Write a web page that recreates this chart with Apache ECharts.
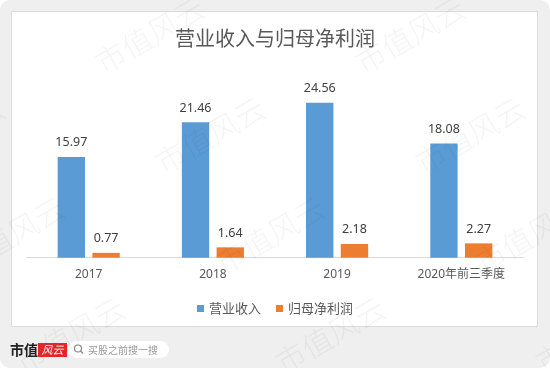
<!DOCTYPE html>
<html>
<head>
<meta charset="utf-8">
<script src="https://cdn.jsdelivr.net/npm/echarts@6/dist/echarts.min.js"></script>
<style>
html,body{margin:0;padding:0;background:#fff;}
#main{width:550px;height:368px;}
</style>
</head>
<body>
<div id="main"></div>
<script>
var categories = ['2017', '2018', '2019', '2020年前三季度'];
var revenue = [15.97, 21.46, 24.56, 18.08];   // 营业收入
var netProfit = [0.77, 1.64, 2.18, 2.27];      // 归母净利润
var seriesNames = ['营业收入', '归母净利润'];

var chart = echarts.init(document.getElementById('main'));
var font = '"Noto Sans", "Noto Sans CJK SC", sans-serif';

// 水印 市值风云
var marks = [];
[-110, 150, 410].forEach(function (x0) {
    for (var k = -1; k < 4; k++) {
        marks.push({
            type: 'text',
            x: x0 + 60 * k,
            y: 35 + 100 * k,
            rotation: Math.PI / 6,
            z: 100,
            silent: true,
            style: {
                text: '市值风云',
                fill: 'rgba(0,0,0,0.045)',
                font: '300 30px "Noto Sans CJK SC"',
                align: 'center',
                verticalAlign: 'middle'
            }
        });
    }
});

var option = {
    backgroundColor: '#fff',
    textStyle: { fontFamily: font },
    title: {
        text: '营业收入与归母净利润',
        left: 'center',
        top: 23,
        textStyle: { color: '#595959', fontSize: 20, fontWeight: 'normal', fontFamily: '"Noto Sans CJK SC"' }
    },
    grid: { left: 26.6, right: 26.6, top: 68.4, height: 189.3 },
    legend: {
        data: seriesNames,
        top: 297,
        left: 'center',
        icon: 'rect',
        itemWidth: 7,
        itemHeight: 7,
        itemGap: 15,
        textStyle: { color: '#595959', fontSize: 13, fontFamily: '"Noto Sans CJK SC"' }
    },
    xAxis: {
        type: 'category',
        data: categories,
        axisTick: { show: false },
        axisLine: { lineStyle: { color: '#d9d9d9', width: 1 } },
        axisLabel: { color: '#595959', fontSize: 12, margin: 11 }
    },
    yAxis: {
        type: 'value',
        min: 0,
        max: 30,
        show: false,
        splitLine: { show: false }
    },
    series: [
        {
            name: seriesNames[0],
            type: 'bar',
            data: revenue,
            barGap: '27%',
            barCategoryGap: '50%',
            itemStyle: { color: '#5b9bd5' },
            label: { show: true, position: 'top', distance: 8, color: '#404040', fontSize: 12.5 }
        },
        {
            name: seriesNames[1],
            type: 'bar',
            data: netProfit,
            itemStyle: { color: '#ed7d31' },
            label: { show: true, position: 'top', distance: 8, color: '#404040', fontSize: 12.5 }
        }
    ],
    graphic: [
        {
            type: 'rect', z: -10, silent: true,
            shape: { x: 0, y: 0, width: 550, height: 368, r: 10 },
            style: { fill: '#efefef' }
        },
        {
            type: 'rect', z: -9, silent: true,
            shape: { x: 11.5, y: 11.5, width: 526, height: 315 },
            style: { fill: '#fff', stroke: '#dcdcdc', lineWidth: 1 }
        },
        // 底部 logo
        {
            type: 'text', z: 10, x: 10, y: 350,
            style: { text: '市值', font: 'bold 14px "Noto Sans CJK SC"', fill: '#222', verticalAlign: 'middle' }
        },
        {
            type: 'rect', z: 10,
            shape: { x: 38, y: 343, width: 29, height: 14 },
            style: { fill: '#e8262a' }
        },
        {
            type: 'text', z: 11, x: 52.5, y: 350,
            style: { text: '风云', font: 'italic 11px "Noto Sans CJK SC"', fill: '#fff', align: 'center', verticalAlign: 'middle' }
        },
        {
            type: 'rect', z: 10,
            shape: { x: 68, y: 341, width: 101, height: 17, r: 8.5 },
            style: { fill: '#fff' }
        },
        {
            type: 'circle', z: 11,
            shape: { cx: 78, cy: 348.5, r: 3.5 },
            style: { fill: 'none', stroke: '#888', lineWidth: 1.2 }
        },
        {
            type: 'line', z: 11,
            shape: { x1: 80.5, y1: 351, x2: 83, y2: 353.5 },
            style: { stroke: '#888', lineWidth: 1.2 }
        },
        {
            type: 'text', z: 11, x: 88, y: 350,
            style: { text: '买股之前搜一搜', font: '10px "Noto Sans CJK SC"', fill: '#999', verticalAlign: 'middle' }
        }
    ].concat(marks)
};
chart.setOption(option);
</script>
</body>
</html>
